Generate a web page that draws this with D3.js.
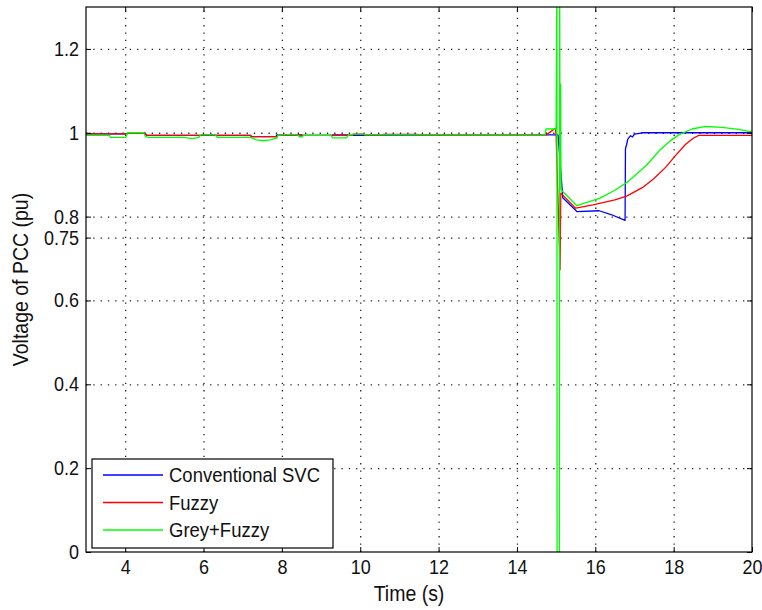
<!DOCTYPE html>
<html>
<head>
<meta charset="utf-8">
<script src="https://cdn.jsdelivr.net/npm/d3@7"></script>
<style>
    html, body { margin: 0; padding: 0; background: #fff; }
    svg text { font-family: "Liberation Sans", Arial, Helvetica, sans-serif; fill: #111; }
</style>
</head>
<body>
<svg id="chart" width="762" height="610"></svg>
<script>
/*globals d3*/
var seriesNames = ["Conventional SVC", "Fuzzy", "Grey+Fuzzy"];
var seriesColors = ["#0000ff", "#ff0000", "#00ff00"];

var xTicks = [4, 6, 8, 10, 12, 14, 16, 18, 20];
var yTicks = [0, 0.2, 0.4, 0.6, 0.75, 0.8, 1, 1.2];
var yTickLabels = ["0", "0.2", "0.4", "0.6", "0.75", "0.8", "1", "1.2"];

// Conventional SVC
var convTime = [3, 4.05, 4.07, 4.5, 4.55, 7.2, 7.22, 7.85, 7.87, 8.05, 8.07, 8.38, 8.4, 8.5, 8.52,
    9.28, 9.3, 9.68, 9.7, 14.98, 15.05, 15.17, 15.53, 16.1, 16.4, 16.76, 16.77, 16.8, 16.83,
    16.9, 16.95, 17.0, 17.2, 20];
var convVolt = [0.9975, 0.9975, 0.999, 0.999, 0.994, 0.994, 0.991, 0.991, 0.995, 0.995, 0.994, 0.994, 0.995, 0.995, 0.994,
    0.994, 0.995, 0.995, 0.994, 0.995, 0.995, 0.845, 0.812, 0.814, 0.805, 0.791, 0.962, 0.972, 0.985,
    0.993, 0.99, 0.997, 1.0, 1.0];

// Fuzzy
var fuzzyTime = [3, 4.05, 4.07, 4.5, 4.55, 5.92, 5.95, 6.3, 6.32, 7.2, 7.22, 7.88, 7.9, 8.45, 8.5,
    9.8, 9.82, 10.1, 10.12, 10.58, 10.6, 11.45, 11.47, 14.75, 14.98, 15.0, 15.1, 15.12, 15.5,
    15.94, 16.5, 16.8, 17.2, 17.5, 17.8, 18.04, 18.3, 18.5, 18.64, 20];
var fuzzyVolt = [0.9975, 0.9975, 0.999, 0.999, 0.994, 0.994, 0.995, 0.995, 0.994, 0.994, 0.991, 0.991, 0.995, 0.995, 0.994,
    0.994, 0.9965, 0.9965, 0.995, 0.995, 0.9962, 0.9962, 0.995, 0.995, 1.011, 0.995, 0.673, 0.856, 0.82,
    0.828, 0.84, 0.849, 0.869, 0.891, 0.918, 0.945, 0.972, 0.987, 0.9937, 0.9937];

// Grey+Fuzzy
var greyTime = [3, 3.6, 3.62, 4.02, 4.05, 4.47, 4.52, 4.6, 5.5, 5.7, 5.88, 5.92, 6.3, 6.35, 7.2,
    7.35, 7.53, 7.7, 7.88, 7.9, 8.4, 8.45, 8.52, 8.55, 9.25, 9.3, 9.65, 9.7, 9.8, 9.82, 10.1,
    10.12, 14.72, 14.74, 15.0, 15.02, 15.025, 15.085, 15.09, 15.1, 15.115, 15.125, 15.53, 16.12,
    16.5, 16.8, 17.3, 17.65, 17.9, 18.13, 18.47, 18.81, 19.23, 19.66, 20];
var greyVolt = [0.994, 0.994, 0.989, 0.989, 1.0, 1.0, 0.991, 0.989, 0.989, 0.986, 0.989, 0.995, 0.995, 0.989, 0.989,
    0.983, 0.981, 0.983, 0.988, 0.995, 0.995, 0.9905, 0.9905, 0.994, 0.994, 0.988, 0.988, 0.995, 0.995, 0.997, 0.997,
    0.995, 0.995, 1.009, 1.009, 1.4, 0, 0, 1.4, 0.9, 1.116, 0.864, 0.826, 0.844,
    0.863, 0.881, 0.922, 0.959, 0.98, 0.995, 1.009, 1.015, 1.013, 1.008, 1.002];

(function () {
    "use strict";
    var svg = d3.select("#chart");
    var left = 86, right = 752, top = 7, bottom = 552;
    var stretch = "scale(1,1.12)";

    var x = d3.scaleLinear().domain([3, 20]).range([left, right]);
    var y = d3.scaleLinear().domain([0, 1.3]).range([bottom, top]);

    svg.append("rect")
        .attr("width", 762).attr("height", 610).attr("fill", "#fff");

    svg.append("defs").append("clipPath").attr("id", "plot-clip")
      .append("rect")
        .attr("x", left).attr("y", top)
        .attr("width", right - left).attr("height", bottom - top);

    // dotted grid
    var grid = svg.append("g").attr("class", "grid");
    grid.append("g")
        .attr("transform", "translate(0," + bottom + ")")
        .call(d3.axisBottom(x).tickValues(xTicks.slice(0, -1))
            .tickSize(-(bottom - top)).tickFormat(""));
    grid.append("g")
        .attr("transform", "translate(" + left + ",0)")
        .call(d3.axisLeft(y).tickValues(yTicks.slice(1))
            .tickSize(-(right - left)).tickFormat(""));
    grid.selectAll(".domain").remove();

    // series
    var line = d3.line()
        .x(function (d) { return x(d[0]); })
        .y(function (d) { return y(d[1]); });

    var series = [
        d3.zip(convTime, convVolt),
        d3.zip(fuzzyTime, fuzzyVolt),
        d3.zip(greyTime, greyVolt)
    ];

    svg.append("g")
        .attr("clip-path", "url(#plot-clip)")
      .selectAll("path")
        .data(series)
      .enter()
        .append("path")
        .attr("d", line)
        .attr("fill", "none")
        .attr("stroke", function (d, i) { return seriesColors[i]; })
        .attr("stroke-width", 1.3)
        .attr("stroke-linejoin", "round");

    // axes with inward ticks on all four sides
    var xAxis = svg.append("g")
        .attr("transform", "translate(0," + bottom + ")")
        .call(d3.axisBottom(x).tickValues(xTicks).tickSizeInner(-5)
            .tickSizeOuter(0).tickPadding(7));
    var yAxis = svg.append("g")
        .attr("transform", "translate(" + left + ",0)")
        .call(d3.axisLeft(y).tickValues(yTicks).tickSizeInner(-5)
            .tickSizeOuter(0).tickPadding(7)
            .tickFormat(function (d, i) { return yTickLabels[i]; }));
    svg.append("g")
        .attr("transform", "translate(0," + top + ")")
        .call(d3.axisTop(x).tickValues(xTicks).tickSizeInner(-5)
            .tickSizeOuter(0).tickFormat(""));
    svg.append("g")
        .attr("transform", "translate(" + right + ",0)")
        .call(d3.axisRight(y).tickValues(yTicks).tickSizeInner(-5)
            .tickSizeOuter(0).tickFormat(""));

    svg.selectAll(".domain").remove();
    [xAxis, yAxis].forEach(function (a) {
        a.selectAll("text")
            .attr("font-size", "18px")
            .attr("font-family", null)
            .attr("transform", stretch);
    });
    svg.selectAll(".tick line").attr("stroke", "#000");
    grid.selectAll("line")
        .attr("stroke", "#222")
        .attr("stroke-width", 1.3)
        .attr("stroke-dasharray", "1.3,6");

    svg.append("rect")
        .attr("x", left).attr("y", top)
        .attr("width", right - left).attr("height", bottom - top)
        .attr("fill", "none").attr("stroke", "#000").attr("stroke-width", 1.2);

    // axis titles
    svg.append("text")
        .attr("transform", "translate(409,601) " + stretch)
        .attr("text-anchor", "middle")
        .attr("font-size", "19.5px")
        .text("Time (s)");
    svg.append("text")
        .attr("transform", "translate(28," + ((top + bottom) / 2) + ") rotate(-90) " + stretch)
        .attr("text-anchor", "middle")
        .attr("font-size", "19.5px")
        .text("Voltage of PCC (pu)");

    // legend
    var legend = svg.append("g").attr("transform", "translate(92,459)");
    legend.append("rect")
        .attr("width", 241).attr("height", 89)
        .attr("fill", "#fff").attr("stroke", "#000").attr("stroke-width", 1.2);
    var item = legend.selectAll("g.item")
        .data(seriesNames)
      .enter()
        .append("g")
        .attr("class", "item")
        .attr("transform", function (d, i) { return "translate(0," + (16 + i * 27.5) + ")"; });
    item.append("line")
        .attr("x1", 11).attr("x2", 71)
        .attr("stroke", function (d, i) { return seriesColors[i]; })
        .attr("stroke-width", 1.3);
    item.append("text")
        .attr("x", 77)
        .attr("dy", "0.36em")
        .attr("font-size", "18.5px")
        .attr("transform", stretch)
        .text(function (d) { return d; });
})();
</script>
</body>
</html>
